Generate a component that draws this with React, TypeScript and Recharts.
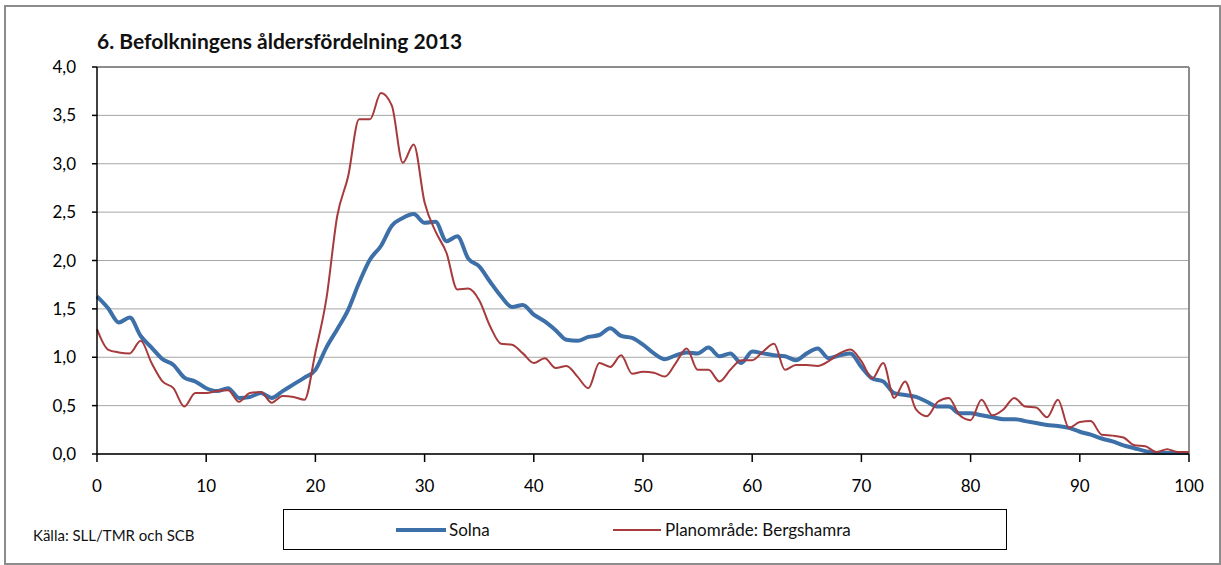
import {
  LineChart,
  Line,
  XAxis,
  YAxis,
  CartesianGrid,
  ReferenceLine,
} from "recharts";

// age 0..100
const ages: number[] = Array.from({ length: 101 }, (_, i) => i);

const solna: number[] = [
  1.63, 1.51, 1.36, 1.41, 1.22, 1.1, 0.98, 0.92, 0.79, 0.75,
  0.68, 0.65, 0.68, 0.58, 0.59, 0.63, 0.58, 0.65, 0.72, 0.79,
  0.87, 1.1, 1.29, 1.49, 1.77, 2.01, 2.15, 2.36, 2.44, 2.48,
  2.39, 2.4, 2.2, 2.25, 2.02, 1.94, 1.78, 1.63, 1.52, 1.54,
  1.44, 1.37, 1.28, 1.18, 1.17, 1.21, 1.23, 1.3, 1.22, 1.2,
  1.13, 1.04, 0.98, 1.02, 1.05, 1.04, 1.1, 1.01, 1.04, 0.94,
  1.06, 1.04, 1.02, 1.01, 0.97, 1.04, 1.09, 0.99, 1.02, 1.04,
  0.9, 0.78, 0.75, 0.63, 0.61, 0.59, 0.54, 0.49, 0.49, 0.42,
  0.42, 0.4, 0.38, 0.36, 0.36, 0.34, 0.32, 0.3, 0.29, 0.27,
  0.23, 0.2, 0.16, 0.13, 0.09, 0.06, 0.03, 0.01, 0.01, 0.01, 0.01,
];

const bergshamra: number[] = [
  1.29, 1.08, 1.05, 1.04, 1.17, 0.94, 0.75, 0.68, 0.49, 0.63,
  0.63, 0.65, 0.66, 0.54, 0.63, 0.64, 0.53, 0.6, 0.59, 0.56,
  1.05, 1.6, 2.46, 2.87, 3.46, 3.46, 3.73, 3.6, 3.01, 3.2,
  2.6, 2.3, 2.08, 1.7, 1.71, 1.59, 1.32, 1.14, 1.13, 1.04,
  0.94, 0.99, 0.89, 0.91, 0.8, 0.68, 0.94, 0.9, 1.02, 0.83,
  0.85, 0.84, 0.8, 0.94, 1.09, 0.87, 0.87, 0.75, 0.87, 0.97,
  0.97, 1.06, 1.14, 0.87, 0.92, 0.92, 0.91, 0.96, 1.04, 1.08,
  0.96, 0.78, 0.94, 0.58, 0.75, 0.46, 0.39, 0.54, 0.58, 0.4,
  0.35, 0.56, 0.4, 0.46, 0.58, 0.49, 0.48, 0.38, 0.56, 0.27,
  0.33, 0.34, 0.2, 0.19, 0.17, 0.09, 0.08, 0.02, 0.05, 0.02, 0.02,
];

const xTicks = [0, 10, 20, 30, 40, 50, 60, 70, 80, 90, 100];
const yTicks = [0, 0.5, 1, 1.5, 2, 2.5, 3, 3.5, 4];

const BLUE = "#3d6fa8";
const RED = "#a63a3c";
const FONT = "Lato, 'Open Sans', sans-serif";

const data = ages.map((age, i) => ({
  age,
  solna: solna[i],
  bergshamra: bergshamra[i],
}));

const fmt = (v: number) => v.toFixed(1).replace(".", ",");

export default function App() {
  return (
    <div
      style={{
        position: "absolute",
        left: 0,
        top: 0,
        width: 1221,
        height: 565,
        background: "#fff",
        fontFamily: FONT,
      }}
    >
      <div
        style={{
          position: "absolute",
          left: 4,
          top: 5,
          width: 1213,
          height: 556,
          border: "2px solid #8c8c8c",
        }}
      />
      <div
        style={{
          position: "absolute",
          left: 97,
          top: 28,
          fontSize: 21,
          fontWeight: "bold",
          color: "#111",
        }}
      >
        6. Befolkningens åldersfördelning 2013
      </div>

      <LineChart
        width={1221}
        height={565}
        data={data}
        margin={{ top: 67, right: 32, bottom: 81, left: 40 }}
        style={{ position: "absolute", left: 0, top: 0 }}
      >
        <CartesianGrid vertical={false} stroke="#a6a6a6" />
        <ReferenceLine y={4} stroke="#8c8c8c" strokeWidth={2} />
        <ReferenceLine x={100} stroke="#8c8c8c" strokeWidth={2} />
        <XAxis
          dataKey="age"
          type="number"
          domain={[0, 100]}
          ticks={xTicks}
          height={30}
          tickSize={8}
          tickMargin={18}
          stroke="#000"
          strokeWidth={1.5}
          tick={{ fill: "#000", fontSize: 17, fontFamily: FONT }}
        />
        <YAxis
          type="number"
          domain={[0, 4]}
          ticks={yTicks}
          width={57}
          tickSize={5}
          tickMargin={16}
          tickFormatter={fmt}
          stroke="#000"
          strokeWidth={1.5}
          tick={{ fill: "#000", fontSize: 17, fontFamily: FONT }}
        />
        <Line
          type="monotone"
          dataKey="solna"
          stroke={BLUE}
          strokeWidth={4}
          dot={false}
          isAnimationActive={false}
        />
        <Line
          type="monotone"
          dataKey="bergshamra"
          stroke={RED}
          strokeWidth={2}
          dot={false}
          isAnimationActive={false}
        />
      </LineChart>

      <div
        style={{
          position: "absolute",
          left: 33,
          top: 526,
          fontSize: 15,
          color: "#111",
        }}
      >
        Källa: SLL/TMR och SCB
      </div>

      <div
        style={{
          position: "absolute",
          left: 283,
          top: 509,
          width: 722,
          height: 39,
          border: "1.5px solid #000",
          fontSize: 17,
          color: "#111",
        }}
      >
        <div
          style={{
            position: "absolute",
            left: 112,
            top: 18,
            width: 50,
            height: 4,
            background: BLUE,
          }}
        />
        <div style={{ position: "absolute", left: 165, top: 9 }}>Solna</div>
        <div
          style={{
            position: "absolute",
            left: 329,
            top: 19,
            width: 48,
            height: 2,
            background: RED,
          }}
        />
        <div style={{ position: "absolute", left: 381, top: 9 }}>
          Planområde: Bergshamra
        </div>
      </div>
    </div>
  );
}
